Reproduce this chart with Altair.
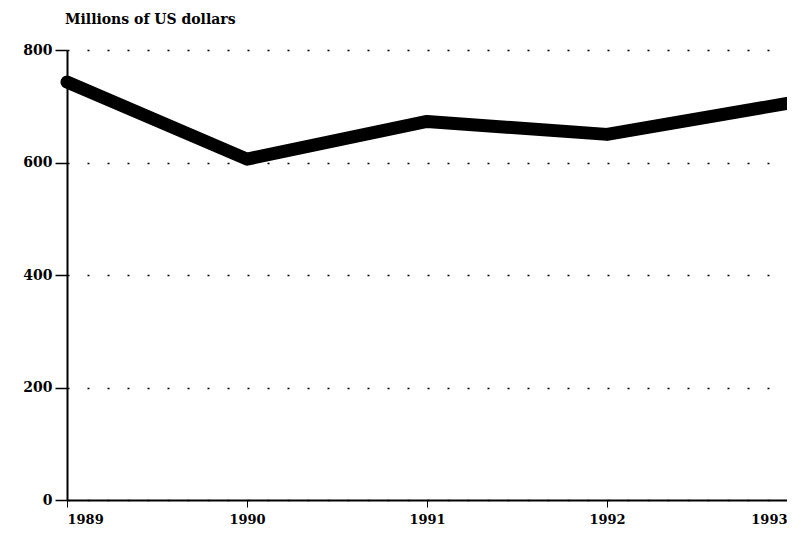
import altair as alt
import pandas as pd

years = [1989, 1990, 1991, 1992, 1993]
values = [743, 606, 673, 650, 705]
y_ticks = [0, 200, 400, 600, 800]

df = pd.DataFrame({"year": years, "value": values})

FONT = "DejaVu Serif"

base = alt.Chart(df)

line = base.mark_line(color="black", strokeWidth=13, strokeCap="round", strokeJoin="round").encode(
    x=alt.X("year:Q",
            scale=alt.Scale(domain=[1989, 1993], nice=False, zero=False),
            axis=alt.Axis(values=years, format="d", title=None, grid=False,
                          domain=True, domainColor="black", domainWidth=2,
                          tickColor="black", tickSize=7, tickWidth=1,
                          labelFont=FONT, labelFontWeight="bold", labelFontSize=13,
                          labelColor="black", labelPadding=6)),
    y=alt.Y("value:Q",
            scale=alt.Scale(domain=[0, 800], nice=False),
            axis=alt.Axis(values=y_ticks, title=None, grid=True,
                          gridColor="black", gridDash=[2, 18], gridWidth=1.5,
                          domain=True, domainColor="black", domainWidth=2,
                          tickColor="black", tickSize=12, tickWidth=1.5,
                          labelFont=FONT, labelFontWeight="bold", labelFontSize=14,
                          labelColor="black", labelPadding=3)),
)

chart = line.properties(
    width=720,
    height=450,
    background="white",
    title=alt.TitleParams("Millions of US dollars", anchor="start", frame="group", font=FONT,
                          fontSize=14, fontWeight="bold", color="black", offset=16, dx=-2),
    autosize=alt.AutoSizeParams(type="none"),
    padding={"left": 59, "top": 42, "right": 0, "bottom": 30},
).configure_view(stroke="transparent", strokeWidth=0)

chart.save("out.html", embed_options={"renderer": "svg", "actions": False})
